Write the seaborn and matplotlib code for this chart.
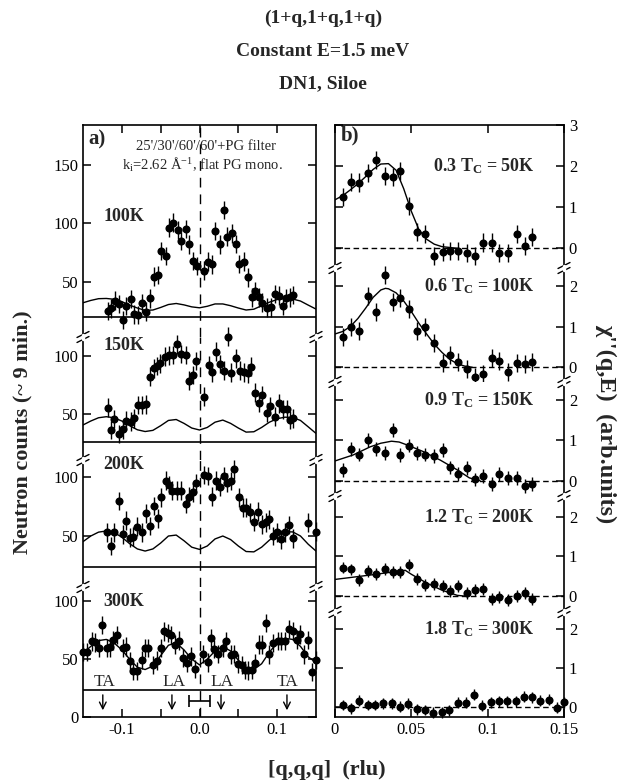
import numpy as np
import pandas as pd
import matplotlib
matplotlib.use("Agg")
import matplotlib.pyplot as plt
import seaborn as sns

# ---------------- data: panel a (neutron counts vs q) ----------------
q_100 = [-0.118, -0.114, -0.109, -0.104, -0.099, -0.094, -0.088, -0.084, -0.079, -0.074,
         -0.069, -0.064, -0.059, -0.054, -0.049, -0.043, -0.039, -0.034, -0.028, -0.024,
         -0.018, -0.013, -0.009, -0.003, 0.006, 0.011, 0.016, 0.020, 0.027, 0.031,
         0.036, 0.042, 0.047, 0.051, 0.057, 0.062, 0.067, 0.072, 0.077, 0.081,
         0.087, 0.092, 0.097, 0.102, 0.107, 0.112, 0.117, 0.121]
c_100 = [24.9, 27.2, 33.7, 30.9, 17.2, 29.2, 35.2, 22.0, 21.5, 31.4,
         24.3, 35.7, 54.3, 55.7, 76.3, 72.0, 96.2, 100.5, 94.2, 84.8,
         95.1, 82.0, 67.7, 63.4, 59.4, 67.1, 64.8, 93.4, 82.0, 111.4,
         88.5, 91.4, 82.3, 65.1, 67.1, 53.7, 36.6, 42.0, 36.6, 32.0,
         27.7, 28.0, 39.4, 38.0, 29.2, 35.7, 36.6, 38.6]

q_150 = [-0.118, -0.114, -0.110, -0.104, -0.099, -0.094, -0.088, -0.084, -0.079, -0.074,
         -0.069, -0.064, -0.059, -0.055, -0.051, -0.044, -0.039, -0.034, -0.029, -0.024,
         -0.018, -0.013, -0.009, -0.004, 0.006, 0.012, 0.016, 0.021, 0.027, 0.031,
         0.037, 0.040, 0.047, 0.052, 0.057, 0.062, 0.066, 0.071, 0.076, 0.081,
         0.087, 0.091, 0.097, 0.102, 0.107, 0.113, 0.116, 0.121]
c_150 = [55.4, 36.3, 45.7, 32.9, 36.9, 44.3, 43.4, 46.3, 57.7, 57.7,
         58.3, 82.0, 89.1, 91.1, 93.4, 99.1, 100.3, 100.6, 109.7, 101.4,
         100.6, 78.6, 83.4, 95.4, 64.9, 92.0, 85.7, 103.4, 92.9, 87.1,
         116.3, 85.4, 97.7, 87.1, 85.7, 84.9, 90.6, 68.3, 59.7, 66.3,
         51.1, 56.9, 47.7, 59.1, 54.0, 54.0, 44.9, 46.3]

q_200 = [-0.119, -0.114, -0.110, -0.104, -0.099, -0.095, -0.089, -0.085, -0.080, -0.074,
         -0.069, -0.064, -0.059, -0.054, -0.049, -0.043, -0.039, -0.035, -0.029, -0.024,
         -0.018, -0.014, -0.009, -0.004, 0.006, 0.011, 0.016, 0.021, 0.026, 0.031,
         0.036, 0.041, 0.045, 0.051, 0.056, 0.060, 0.065, 0.070, 0.075, 0.080,
         0.085, 0.090, 0.094, 0.100, 0.105, 0.110, 0.115, 0.120, 0.140, 0.150]
c_200 = [53.1, 41.5, 53.1, 79.8, 51.4, 63.1, 48.6, 49.4, 58.0, 53.1,
         69.3, 58.5, 75.6, 65.1, 82.9, 97.1, 93.5, 88.6, 88.6, 88.6,
         77.3, 83.5, 87.2, 94.9, 102.0, 101.1, 83.5, 97.1, 92.0, 101.1,
         95.4, 96.9, 106.8, 82.9, 74.1, 74.1, 70.2, 62.2, 70.7, 59.9,
         61.6, 64.2, 50.0, 53.1, 47.2, 53.1, 59.4, 48.0, 61.4, 53.7]

q_300 = [-0.150, -0.145, -0.139, -0.134, -0.130, -0.125, -0.119, -0.115, -0.111, -0.106,
         -0.099, -0.095, -0.089, -0.085, -0.080, -0.074, -0.070, -0.066, -0.060, -0.055,
         -0.050, -0.046, -0.041, -0.037, -0.031, -0.027, -0.021, -0.016, -0.011, -0.006,
         0.005, 0.011, 0.015, 0.019, 0.024, 0.030, 0.034, 0.040, 0.044, 0.049,
         0.055, 0.059, 0.063, 0.067, 0.072, 0.077, 0.081, 0.086, 0.090, 0.095,
         0.101, 0.105, 0.110, 0.115, 0.120, 0.125, 0.130, 0.135, 0.140, 0.145, 0.150]
c_300 = [56.0, 56.0, 65.3, 64.4, 59.5, 79.6, 59.5, 60.1, 66.1, 71.0,
         59.8, 60.7, 48.0, 39.9, 39.9, 49.4, 59.5, 59.5, 45.1, 48.6,
         59.5, 73.9, 72.4, 71.0, 62.5, 65.9, 50.9, 46.6, 52.3, 41.4,
         54.6, 47.1, 68.1, 58.6, 54.6, 59.5, 65.3, 53.8, 54.6, 46.0,
         45.1, 40.8, 40.2, 40.8, 46.6, 62.5, 62.5, 81.0, 54.0, 64.1,
         65.5, 65.5, 65.5, 76.1, 74.1, 66.9, 71.3, 54.0, 66.7, 38.8, 49.4]

# model curves drawn through each panel a scan
q_curve = [-0.15, -0.14, -0.13, -0.12, -0.11, -0.10, -0.09, -0.08, -0.07, -0.06,
           -0.05, -0.04, -0.03, -0.02, -0.01, 0.00, 0.01, 0.02, 0.03, 0.04,
           0.05, 0.06, 0.07, 0.08, 0.09, 0.10, 0.11, 0.12, 0.13, 0.14, 0.15]
fit_100 = [32.0, 34.0, 35.5, 35.7, 35.0, 33.0, 30.0, 27.5, 25.5, 25.8,
           28.0, 30.5, 31.4, 30.2, 28.5, 27.7, 29.0, 31.0, 31.0, 29.5,
           27.5, 25.8, 26.5, 29.5, 32.5, 34.8, 35.7, 35.2, 33.5, 30.0, 26.6]
fit_150 = [40.6, 44.0, 46.8, 47.7, 46.8, 44.0, 40.0, 36.5, 35.0, 36.0,
           40.0, 44.5, 45.3, 42.0, 38.0, 36.3, 38.5, 43.0, 44.8, 42.0,
           38.0, 34.5, 34.8, 38.5, 43.0, 46.0, 47.3, 47.0, 44.5, 39.0, 33.4]
fit_200 = [45.2, 50.0, 53.3, 54.3, 53.0, 49.0, 43.5, 39.0, 37.2, 39.0,
           44.0, 50.0, 50.8, 46.0, 40.5, 38.6, 41.5, 47.5, 50.0, 47.0,
           41.5, 36.8, 36.5, 40.5, 46.5, 51.5, 53.5, 53.5, 50.0, 43.0, 37.2]
fit_300 = [55.0, 61.0, 66.0, 67.0, 64.0, 58.0, 50.0, 43.0, 41.0, 44.0,
           53.0, 62.0, 64.0, 58.0, 50.0, 45.0, 50.0, 57.0, 61.0, 57.0,
           49.0, 42.0, 41.0, 46.0, 56.0, 64.0, 68.0, 67.0, 61.0, 52.0, 47.0]

count_err = [8, 8, 8, 8]
baseline_a = [20.0, 26.2, 23.9, 23.3]
temps_a = ["100K", "150K", "200K", "300K"]

phonon_labels = ["TA", "LA", "LA", "TA"]
phonon_label_q = [-0.122, -0.033, 0.029, 0.113]
phonon_arrow_q = [-0.1245, -0.0355, 0.0277, 0.1126]
res_width = 0.0129

# ---------------- data: panel b (chi'' vs q) ----------------
qb = [0.0055, 0.0105, 0.016, 0.0214, 0.0269, 0.0328, 0.0378, 0.0426, 0.0487,
      0.0539, 0.0592, 0.0648, 0.0705, 0.0753, 0.0808, 0.0862, 0.0917, 0.0972,
      0.1026, 0.1076, 0.1131, 0.119, 0.1245, 0.1288]
chi_50 = [1.24, 1.62, 1.60, 1.84, 2.14, 1.75, 1.73, 1.87, 1.03,
          0.40, 0.34, -0.19, -0.08, -0.07, -0.07, -0.12, -0.19, 0.14,
          0.14, -0.11, -0.11, 0.34, 0.06, 0.28]
chi_100 = [0.75, 1.00, 0.90, 1.75, 1.37, 2.27, 1.61, 1.70, 1.43,
           0.90, 1.00, 0.59, 0.10, 0.30, 0.14, -0.03, -0.23, -0.16,
           0.22, 0.16, -0.11, 0.10, 0.08, 0.14]
chi_150 = [0.27, 0.78, 0.65, 1.01, 0.78, 0.69, 1.26, 0.64, 0.87,
           0.69, 0.65, 0.62, 0.76, 0.33, 0.17, 0.31, 0.03, 0.12,
           -0.08, 0.16, 0.06, 0.06, -0.13, -0.08]
chi_200 = [0.72, 0.67, 0.40, 0.63, 0.55, 0.68, 0.60, 0.61, 0.78,
           0.43, 0.28, 0.30, 0.26, 0.13, 0.25, 0.08, 0.15, 0.19,
           -0.08, -0.02, -0.10, 0.00, 0.08, -0.08]
qb_300 = [0.005, 0.0105, 0.0159, 0.0214, 0.0262, 0.0317, 0.0371, 0.0426, 0.048,
          0.0535, 0.059, 0.0644, 0.0699, 0.0749, 0.0808, 0.0858, 0.091, 0.0965,
          0.1022, 0.1074, 0.1129, 0.1186, 0.1238, 0.1288, 0.1343, 0.1402, 0.1452, 0.1502]
chi_300 = [0.05, -0.03, 0.16, 0.05, 0.05, 0.09, 0.09, 0.01, 0.08,
           -0.06, -0.08, -0.15, -0.14, -0.09, 0.11, 0.11, 0.31, 0.03,
           0.12, 0.14, 0.15, 0.14, 0.26, 0.25, 0.16, 0.18, -0.02, 0.12]

qf_50 = [0.0, 0.005, 0.01, 0.015, 0.02, 0.025, 0.03, 0.035, 0.04, 0.045, 0.05,
         0.055, 0.06, 0.065, 0.07, 0.08]
fit_50 = [1.18, 1.28, 1.42, 1.57, 1.74, 1.92, 2.05, 2.06, 1.90, 1.45, 0.90,
          0.45, 0.22, 0.10, 0.04, 0.0]
qf_100 = [0.0, 0.005, 0.01, 0.015, 0.02, 0.025, 0.03, 0.033, 0.035, 0.04, 0.045,
          0.05, 0.055, 0.06, 0.065, 0.07, 0.075, 0.08, 0.085, 0.09]
fit_100b = [0.82, 0.88, 1.00, 1.20, 1.45, 1.72, 1.90, 1.94, 1.93, 1.83, 1.63,
            1.37, 1.08, 0.82, 0.57, 0.37, 0.20, 0.09, 0.03, 0.0]
qf_150 = [0.0, 0.012, 0.023, 0.030, 0.037, 0.042, 0.047, 0.058, 0.069, 0.080, 0.088, 0.095]
fit_150b = [0.49, 0.64, 0.84, 0.93, 0.98, 0.96, 0.89, 0.72, 0.51, 0.27, 0.07, 0.0]
qf_200 = [0.0, 0.023, 0.046, 0.050, 0.060, 0.070, 0.080, 0.085]
fit_200b = [0.42, 0.53, 0.65, 0.55, 0.33, 0.15, 0.02, 0.0]

chi_err = [0.22, 0.22, 0.17, 0.15, 0.14]
labels_b = [r"0.3 T$_{\mathbf{C}}$ = 50K", r"0.6 T$_{\mathbf{C}}$ = 100K",
            r"0.9 T$_{\mathbf{C}}$ = 150K", r"1.2 T$_{\mathbf{C}}$ = 200K",
            r"1.8 T$_{\mathbf{C}}$ = 300K"]

# ---------------- style ----------------
sns.set_theme(style="ticks")
plt.rcParams["font.family"] = ["Liberation Serif", "DejaVu Serif"]
plt.rcParams["mathtext.fontset"] = "custom"
plt.rcParams["mathtext.rm"] = "Liberation Serif"
plt.rcParams["mathtext.bf"] = "Liberation Serif:bold"
plt.rcParams["mathtext.it"] = "Liberation Serif:italic"
plt.rcParams["axes.linewidth"] = 1.2

W, H = 622, 782
fig = plt.figure(figsize=(W / 100, H / 100), dpi=100)


def add_ax(l, r, t, b):
    return fig.add_axes([l / W, 1 - b / H, (r - l) / W, (b - t) / H])


def style_ax(ax, first, last):
    for s in ["left", "right", "top", "bottom"]:
        ax.spines[s].set_color("black")
    ax.spines["top"].set_visible(first)
    ax.spines["bottom"].set_visible(last)
    ax.tick_params(direction="in", length=6, width=1.1, colors="black",
                   labelsize=12, top=first, bottom=last, left=True, right=True,
                   labelbottom=last, labeltop=False)
    ax.set_facecolor("white")
    ax.set_xlabel("")
    ax.set_ylabel("")


def draw_break(xpix, ypix):
    for dy in (-2.5, 2.5):
        fig.add_artist(plt.Line2D([(xpix - 6) / W, (xpix + 6) / W],
                                  [1 - (ypix + dy + 3) / H, 1 - (ypix + dy - 3) / H],
                                  color="black", lw=1.0))
    fig.add_artist(plt.Line2D([xpix / W, xpix / W],
                              [1 - (ypix + 1.6) / H, 1 - (ypix - 1.6) / H],
                              color="white", lw=2.5))


# ---------------- panel a ----------------
a_bounds = [(125, 337), (337, 460), (460, 587), (587, 717)]
a_ylims = [(2.7, 184.2), (10.6, 116.0), (6.6, 114.7), (0.0, 112.3)]
a_yticks = [[50, 100, 150], [50, 100], [50, 100], [0, 50, 100]]
a_q = [q_100, q_150, q_200, q_300]
a_c = [c_100, c_150, c_200, c_300]
a_fit = [fit_100, fit_150, fit_200, fit_300]
a_label_y = [106.0, 109.0, 111.0, 100.0]

for i, (t, b) in enumerate(a_bounds):
    ax = add_ax(83, 316, t, b)
    ax.set_xlim(-0.15, 0.15)
    ax.set_ylim(*a_ylims[i])
    style_ax(ax, i == 0, i == 3)
    ax.set_yticks(a_yticks[i])
    ax.set_yticklabels([str(v) for v in a_yticks[i]])
    ax.set_xticks([-0.1, -0.05, 0.0, 0.05, 0.1])
    ax.set_xticklabels(["-0.1", "", "0.0", "", "0.1"])
    ax.axvline(0, color="black", lw=1.0, ls=(0, (7, 5)))
    ax.axhline(baseline_a[i], color="black", lw=1.2)
    sns.lineplot(x=q_curve, y=a_fit[i], ax=ax, color="black", lw=1.0,
                 sort=False, estimator=None)
    ax.errorbar(a_q[i], a_c[i], yerr=count_err[i], fmt="none", ecolor="black",
                elinewidth=1.0, capsize=0, clip_on=False)
    sns.scatterplot(x=a_q[i], y=a_c[i], ax=ax, color="black", s=34,
                    edgecolor="black", linewidth=0, clip_on=False, zorder=5)
    ax.text(-0.124, a_label_y[i], temps_a[i], fontsize=13, fontweight="bold",
            ha="left", va="center")
    if i == 0:
        ax.text(-0.143, 172, "a)", fontsize=15, fontweight="bold", ha="left", va="center")
        ax.text(0.009, 166, "25'/30'/60'/60'+PG filter", fontsize=10.5,
                ha="center", va="center")
        ax.text(0.004, 150, r"k$_\mathrm{i}$=2.62 Å$^\mathrm{-1}$, flat PG mono.",
                fontsize=10.5, ha="center", va="center")
    if i == 3:
        for lab, lq in zip(phonon_labels, phonon_label_q):
            ax.text(lq, 30.6, lab, fontsize=12.5, ha="center", va="center")
        for aq in phonon_arrow_q:
            ax.annotate("", xy=(aq, 3.4), xytext=(aq, 21.5),
                        arrowprops=dict(arrowstyle="->", color="black", lw=1.0))
        ax.errorbar([0.0], [13.9], xerr=res_width, fmt="none", ecolor="black",
                    elinewidth=1.2, capsize=4, capthick=1.2)

# ---------------- panel b ----------------
b_bounds = [(125, 268), (268, 382), (382, 496), (496, 612), (612, 717)]
b_ylims = [(-0.48, 3.0), (-0.36, 2.44), (-0.38, 2.45), (-0.40, 2.52), (-0.26, 2.44)]
b_yticks = [[0, 1, 2, 3], [0, 1, 2], [0, 1, 2], [0, 1, 2], [0, 1, 2]]
b_q = [qb, qb, qb, qb, qb_300]
b_c = [chi_50, chi_100, chi_150, chi_200, chi_300]
b_fit = [(qf_50, fit_50), (qf_100, fit_100b), (qf_150, fit_150b), (qf_200, fit_200b), None]

for i, (t, b) in enumerate(b_bounds):
    ax = add_ax(335, 564, t, b)
    ax.set_xlim(0, 0.15)
    ax.set_ylim(*b_ylims[i])
    style_ax(ax, i == 0, i == 4)
    ax.yaxis.tick_right()
    ax.tick_params(axis="y", left=True, right=True, labelleft=False, labelright=True)
    ax.set_yticks(b_yticks[i])
    ax.set_yticklabels([str(v) for v in b_yticks[i]])
    ax.set_xticks([0, 0.05, 0.1, 0.15])
    ax.set_xticklabels(["0", "0.05", "0.1", "0.15"])
    ax.axhline(0, color="black", lw=1.0, ls=(0, (4, 2.5)))
    if b_fit[i] is not None:
        sns.lineplot(x=b_fit[i][0], y=b_fit[i][1], ax=ax, color="black", lw=1.0,
                     sort=False, estimator=None)
    ax.errorbar(b_q[i], b_c[i], yerr=chi_err[i], fmt="none", ecolor="black",
                elinewidth=1.0, capsize=0, clip_on=False)
    sns.scatterplot(x=b_q[i], y=b_c[i], ax=ax, color="black", s=34,
                    edgecolor="black", linewidth=0, clip_on=False, zorder=5)
    ax.text(0.131, 2.0, labels_b[i], fontsize=13, fontweight="bold",
            ha="right", va="center")
    if i == 0:
        ax.text(0.004, 2.75, "b)", fontsize=15, fontweight="bold", ha="left", va="center")

# break marks on the spines
for yb in (337, 460, 587):
    draw_break(83, yb)
    draw_break(316, yb)
for yb in (268, 382, 496, 612):
    draw_break(335, yb)
    draw_break(564, yb)

# titles and axis labels
fig.text(323 / W, 1 - 18 / H, "(1+q,1+q,1+q)", fontsize=14, fontweight="bold",
         ha="center", va="center")
fig.text(323 / W, 1 - 51 / H, "Constant E=1.5 meV", fontsize=14, fontweight="bold",
         ha="center", va="center")
fig.text(323 / W, 1 - 84 / H, "DN1, Siloe", fontsize=14, fontweight="bold",
         ha="center", va="center")
fig.text(327 / W, 1 - 770 / H, "[q,q,q]  (rlu)", fontsize=16, fontweight="bold",
         ha="center", va="center")
fig.text(22 / W, 1 - 432 / H, "Neutron counts (~ 9 min.)", fontsize=16,
         fontweight="bold", rotation=90, ha="center", va="center")
fig.text(606 / W, 1 - 424 / H, "χ''(q,E)  (arb.units)", fontsize=17.5,
         fontweight="bold", rotation=-90, ha="center", va="center")

fig.savefig("out.png", dpi=100, facecolor="white")
